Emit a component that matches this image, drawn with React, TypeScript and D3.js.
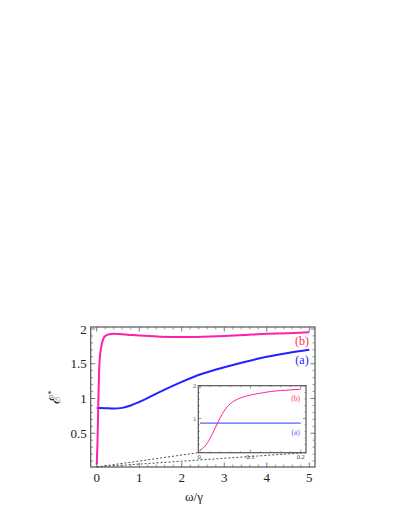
import React from "react";
import * as d3 from "d3";

const mainXTicks = [0, 1, 2, 3, 4, 5];
const mainYTicks = [0.5, 1, 1.5, 2];
const mainYTickLabels = ["0.5", "1", "1.5", "2"];

const curveBX = [0, 0.02, 0.04, 0.06, 0.08, 0.1, 0.15, 0.2, 0.3, 0.4, 0.6, 0.8, 1, 1.5, 2, 2.5, 3, 3.5, 4, 4.5, 5];
const curveBY = [0.05, 0.4, 1.0, 1.45, 1.63, 1.72, 1.85, 1.9, 1.925, 1.93, 1.925, 1.915, 1.905, 1.89, 1.885, 1.89, 1.9, 1.915, 1.93, 1.94, 1.955];

const curveAX = [0, 0.2, 0.4, 0.6, 0.8, 1, 1.5, 2, 2.5, 3, 3.5, 4, 4.5, 5];
const curveAY = [0.865, 0.86, 0.855, 0.865, 0.9, 0.95, 1.1, 1.24, 1.36, 1.45, 1.53, 1.6, 1.655, 1.70];

const insetBX = [0, 0.01, 0.02, 0.03, 0.04, 0.05, 0.06, 0.08, 0.1, 0.12, 0.14, 0.16, 0.18, 0.2];
const insetBY = [0.03, 0.15, 0.39, 0.7, 1.02, 1.28, 1.45, 1.63, 1.72, 1.78, 1.83, 1.86, 1.88, 1.9];
const insetAX = [0, 0.2];
const insetAY = [0.86, 0.86];

const insetXTicks = [0, 0.1, 0.2];
const insetXTickLabels = ["0.", "0.1", "0.2"];
const insetYTicks = [1, 2];
const insetYTickLabels = ["1", "2"];

const MAGENTA = "#ff1fa8";
const BLUE = "#2222ff";
const FRAME = "#555";
const SERIF = "Times New Roman, Liberation Serif, DejaVu Serif, serif";

export default function App() {
  const F = { l: 90.7, r: 315, t: 327, b: 467 };
  const x = d3.scaleLinear().domain([0, 5]).range([96.7, 309.3]);
  const y = d3.scaleLinear().domain([0, 2]).range([468, 329]);

  const I = { l: 198.3, r: 306, t: 385.7, b: 452.7 };
  const ix = d3.scaleLinear().domain([0, 0.2]).range([200, 300.7]);
  const iy = d3.scaleLinear().domain([0, 2]).range([451, 386]);

  const line = (xs: number[], ys: number[], sx: any, sy: any) =>
    d3.line<number>().x((_, i) => sx(xs[i])).y((_, i) => sy(ys[i])).curve(d3.curveMonotoneX)(xs) || "";

  const mainMinorX = d3.range(0, 5.01, 0.2).filter((v) => !mainXTicks.some((t) => Math.abs(t - v) < 1e-6));
  const mainMinorY = d3.range(0.1, 2.01, 0.1).filter((v) => !mainYTicks.some((t) => Math.abs(t - v) < 1e-6));
  const insetMinorX = d3.range(0.02, 0.2, 0.02).filter((v) => !insetXTicks.some((t) => Math.abs(t - v) < 1e-6));
  const insetMinorY = d3.range(0.2, 2.01, 0.2).filter((v) => !insetYTicks.some((t) => Math.abs(t - v) < 1e-6));

  return (
    <svg width={409} height={529} style={{ position: "absolute", left: 0, top: 0, background: "#fff" }}>
      <defs>
        <clipPath id="mainClip">
          <rect x={F.l} y={F.t} width={F.r - F.l} height={F.b - F.t} />
        </clipPath>
        <clipPath id="insetClip">
          <rect x={I.l} y={I.t} width={I.r - I.l} height={I.b - I.t} />
        </clipPath>
      </defs>

      <g clipPath="url(#mainClip)">
        <path d={line(curveAX, curveAY, x, y)} fill="none" stroke={BLUE} strokeWidth={2} />
        <path d={line(curveBX, curveBY, x, y)} fill="none" stroke={MAGENTA} strokeWidth={2} />
      </g>

      <line x1={x(0)} y1={y(0) - 1} x2={I.l} y2={I.b} stroke="#222" strokeWidth={0.8} strokeDasharray="2,2" />
      <line x1={x(0)} y1={y(0) - 1} x2={I.r} y2={I.b} stroke="#222" strokeWidth={0.8} strokeDasharray="2,2" />

      <rect x={F.l} y={F.t} width={F.r - F.l} height={F.b - F.t} fill="none" stroke={FRAME} strokeWidth={1.2} />
      {mainXTicks.map((t) => (
        <g key={"mx" + t}>
          <line x1={x(t)} x2={x(t)} y1={F.b} y2={F.b - 4.5} stroke={FRAME} strokeWidth={0.8} />
          <line x1={x(t)} x2={x(t)} y1={F.t} y2={F.t + 4.5} stroke={FRAME} strokeWidth={0.8} />
          <text x={x(t)} y={F.b + 15} textAnchor="middle" fontFamily={SERIF} fontSize={13} fill="#222">
            {t}
          </text>
        </g>
      ))}
      {mainMinorX.map((t) => (
        <g key={"mmx" + t}>
          <line x1={x(t)} x2={x(t)} y1={F.b} y2={F.b - 2.5} stroke={FRAME} strokeWidth={0.6} />
          <line x1={x(t)} x2={x(t)} y1={F.t} y2={F.t + 2.5} stroke={FRAME} strokeWidth={0.6} />
        </g>
      ))}
      {mainYTicks.map((t, i) => (
        <g key={"my" + t}>
          <line x1={F.l} x2={F.l + 4.5} y1={y(t)} y2={y(t)} stroke={FRAME} strokeWidth={0.8} />
          <line x1={F.r} x2={F.r - 4.5} y1={y(t)} y2={y(t)} stroke={FRAME} strokeWidth={0.8} />
          <text x={F.l - 4} y={y(t) + 4.5} textAnchor="end" fontFamily={SERIF} fontSize={13} fill="#222">
            {mainYTickLabels[i]}
          </text>
        </g>
      ))}
      {mainMinorY.map((t) => (
        <g key={"mmy" + t}>
          <line x1={F.l} x2={F.l + 2.5} y1={y(t)} y2={y(t)} stroke={FRAME} strokeWidth={0.6} />
          <line x1={F.r} x2={F.r - 2.5} y1={y(t)} y2={y(t)} stroke={FRAME} strokeWidth={0.6} />
        </g>
      ))}

      <text x={194} y={501} textAnchor="middle" fontFamily={SERIF} fontSize={13} fill="#222">
        ω/γ
      </text>
      <text
        transform="translate(60,397) rotate(-90)"
        textAnchor="middle"
        fontFamily={SERIF}
        fontSize={15}
        fill="#222"
      >
        ℰ<tspan fontSize={9} dy={-6}>*</tspan>
      </text>

      <text x={302} y={345} textAnchor="middle" fontFamily={SERIF} fontSize={12} fill="#ff2a55">
        (b)
      </text>
      <text x={302} y={364} textAnchor="middle" fontFamily={SERIF} fontSize={12} fill={BLUE}>
        (a)
      </text>

      <rect x={I.l} y={I.t} width={I.r - I.l} height={I.b - I.t} fill="#fff" stroke={FRAME} strokeWidth={1.2} />
      <g clipPath="url(#insetClip)">
        <path d={line(insetAX, insetAY, ix, iy)} fill="none" stroke="#5566ff" strokeWidth={1.3} />
        <path d={line(insetBX, insetBY, ix, iy)} fill="none" stroke={MAGENTA} strokeWidth={1} />
      </g>
      {insetXTicks.map((t, i) => (
        <g key={"ix" + t}>
          <line x1={ix(t)} x2={ix(t)} y1={I.b} y2={I.b - 3} stroke={FRAME} strokeWidth={0.6} />
          <line x1={ix(t)} x2={ix(t)} y1={I.t} y2={I.t + 3} stroke={FRAME} strokeWidth={0.6} />
          <text x={ix(t)} y={I.b + 6.5} textAnchor="middle" fontFamily={SERIF} fontSize={6.5} fill="#444">
            {insetXTickLabels[i]}
          </text>
        </g>
      ))}
      {insetMinorX.map((t) => (
        <g key={"imx" + t}>
          <line x1={ix(t)} x2={ix(t)} y1={I.b} y2={I.b - 1.5} stroke={FRAME} strokeWidth={0.5} />
          <line x1={ix(t)} x2={ix(t)} y1={I.t} y2={I.t + 1.5} stroke={FRAME} strokeWidth={0.5} />
        </g>
      ))}
      {insetYTicks.map((t, i) => (
        <g key={"iy" + t}>
          <line x1={I.l} x2={I.l + 3} y1={iy(t)} y2={iy(t)} stroke={FRAME} strokeWidth={0.6} />
          <line x1={I.r} x2={I.r - 3} y1={iy(t)} y2={iy(t)} stroke={FRAME} strokeWidth={0.6} />
          <text x={I.l - 2} y={iy(t) + 2} textAnchor="end" fontFamily={SERIF} fontSize={6.5} fill="#444">
            {insetYTickLabels[i]}
          </text>
        </g>
      ))}
      {insetMinorY.map((t) => (
        <g key={"imy" + t}>
          <line x1={I.l} x2={I.l + 1.5} y1={iy(t)} y2={iy(t)} stroke={FRAME} strokeWidth={0.5} />
          <line x1={I.r} x2={I.r - 1.5} y1={iy(t)} y2={iy(t)} stroke={FRAME} strokeWidth={0.5} />
        </g>
      ))}
      <text x={295.7} y={400.5} textAnchor="middle" fontFamily={SERIF} fontSize={7.5} fill="#ff3366">
        (b)
      </text>
      <text x={295.7} y={434.5} textAnchor="middle" fontFamily={SERIF} fontSize={7.5} fill="#5566ff">
        (a)
      </text>
    </svg>
  );
}
